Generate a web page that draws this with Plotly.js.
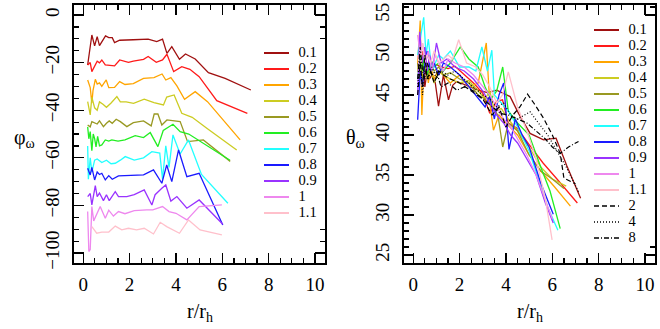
<!DOCTYPE html>
<html>
<head>
<meta charset="utf-8">
<script src="https://cdn.plot.ly/plotly-3.0.1.min.js"></script>
<style>
  html, body { margin: 0; padding: 0; background: #fff; }
  #chart { width: 660px; height: 329px; }
</style>
</head>
<body>
<div id="chart"></div>
<script>
// Series labels and colours
let names = ["0.1", "0.2", "0.3", "0.4", "0.5", "0.6", "0.7", "0.8", "0.9", "1", "1.1"];
let blackNames = ["2", "4", "8"];
let colors = ["#a01010", "#ff1a1a", "#ffa500", "#cccc22", "#999922", "#22ee22", "#22ffff", "#1a1aff", "#9933ff", "#ee88ee", "#ffc0cb"];
let dashes = ["5px,3px", "1px,2px", "5px,2px,1px,2px"];

// Left panel: phi_omega vs r/r_h
let phiX = [
  [0.19, 0.37, 0.49, 0.6, 0.7, 0.8, 0.96, 1.1, 1.25, 1.35, 1.57, 2.16, 2.8, 3.17, 3.42, 3.61, 3.82, 4.15, 4.41, 4.83, 5.4, 6.12, 7.23],
  [0.19, 0.3, 0.37, 0.49, 0.6, 0.7, 0.8, 0.95, 1.25, 1.35, 1.57, 1.95, 2.16, 2.6, 2.8, 3.15, 3.42, 3.61, 3.9, 4.25, 4.6, 5.0, 5.76, 7.08],
  [0.19, 0.3, 0.37, 0.42, 0.52, 0.6, 0.7, 0.8, 0.99, 1.1, 1.35, 1.57, 1.8, 2.16, 2.6, 3.05, 3.4, 3.56, 3.78, 4.04, 4.37, 4.83, 5.36, 6.77],
  [0.19, 0.3, 0.37, 0.49, 0.6, 0.7, 0.85, 1.0, 1.2, 1.45, 1.6, 1.85, 2.17, 2.63, 3.05, 3.46, 3.6, 3.92, 4.25, 4.7, 5.33, 6.62],
  [0.19, 0.3, 0.37, 0.49, 0.6, 0.7, 0.87, 1.0, 1.12, 1.25, 1.42, 1.6, 1.88, 2.16, 2.6, 2.93, 3.06, 3.22, 3.39, 3.61, 4.18, 4.5, 5.18, 6.34],
  [0.19, 0.24, 0.3, 0.37, 0.43, 0.49, 0.55, 0.62, 0.7, 0.8, 0.95, 1.1, 1.23, 1.5, 1.8, 2.24, 2.6, 2.89, 3.22, 3.45, 3.87, 4.18, 4.55, 6.33],
  [0.19, 0.22, 0.3, 0.37, 0.49, 0.6, 0.8, 1.0, 1.2, 1.38, 1.6, 1.81, 2.2, 2.6, 2.96, 3.3, 3.42, 3.56, 3.7, 3.87, 4.18, 4.54, 5.1, 6.24],
  [0.19, 0.3, 0.37, 0.49, 0.6, 0.7, 0.8, 0.95, 1.1, 1.25, 1.52, 1.8, 2.2, 2.6, 3.03, 3.39, 3.6, 3.82, 4.11, 4.47, 5.0, 6.02],
  [0.19, 0.3, 0.37, 0.52, 0.6, 0.7, 0.87, 1.0, 1.12, 1.38, 1.52, 1.88, 2.2, 2.63, 2.96, 3.1, 3.39, 3.56, 3.78, 4.04, 4.47, 5.0, 6.02],
  [0.19, 0.24, 0.3, 0.37, 0.45, 0.55, 0.73, 0.95, 1.1, 1.3, 1.52, 1.8, 2.2, 2.74, 3.0, 3.42, 3.7, 4.0, 4.47, 5.0, 5.98],
  [0.37, 0.49, 0.58, 0.8, 1.1, 1.38, 1.66, 1.95, 2.3, 2.63, 3.03, 3.32, 3.6, 4.15, 4.54, 5.04, 5.98]
];
let phiY = [
  [-21, -8.4, -13, -9.1, -12.9, -11.5, -8.8, -9.5, -9.5, -11.6, -10.6, -10.4, -10.1, -11.2, -10.1, -16.1, -13.3, -18.6, -16.4, -18.5, -24.2, -26.6, -31.5],
  [-21, -20, -23.8, -21.7, -19.4, -20.1, -18.9, -21, -21.4, -21.4, -18.9, -19.9, -19.4, -18.6, -17.4, -19.9, -18.9, -16.5, -23.8, -21.7, -22.8, -25.9, -36, -41.3],
  [-27.3, -30.5, -37, -31.8, -27, -29, -28.5, -30, -27.3, -30.5, -30.4, -28, -29.2, -28.8, -26.6, -26.3, -24.8, -27.3, -26.3, -29.8, -35.4, -32.2, -36.4, -52.5],
  [-36.4, -42, -34.5, -39, -40, -36.5, -37.5, -38.8, -37, -34.3, -36.5, -36.5, -37.1, -35.4, -36.8, -37.8, -34.5, -33.6, -41.3, -43, -47.6, -56.7],
  [-46.2, -47, -44.8, -45.5, -45.8, -44.5, -46.9, -45.5, -44.5, -45.5, -43.8, -44.8, -46.9, -45.2, -44.5, -46.6, -41.6, -41.6, -46.2, -44.1, -44.8, -53.2, -52.5, -61.5],
  [-47, -52, -49, -57, -50, -52, -55.4, -51, -55, -54.6, -52.5, -53, -52.5, -53, -52.5, -50.7, -51.5, -49.4, -55.3, -48.5, -45.9, -49, -50, -61],
  [-55, -69, -60, -66, -61, -60.5, -62, -61, -62.5, -62.3, -61, -59.5, -61, -60, -57.4, -58, -69, -55, -64, -50.4, -58.4, -52.5, -67, -79.1],
  [-64.4, -67.2, -64, -69.3, -66, -67, -66.5, -69.3, -67.5, -69, -67.6, -67.5, -67.2, -67.2, -65.1, -70.7, -63, -70, -56.7, -67.9, -66.5, -88.2],
  [-76.3, -75, -79.8, -71.7, -76.3, -74.8, -78, -75.5, -78, -74.2, -76.3, -76.3, -75.5, -73.5, -79.8, -75.5, -72.8, -71.4, -78.2, -76.3, -81.2, -77.7, -87.9],
  [-82.6, -99.4, -98.5, -80.5, -86.5, -84.5, -80.5, -85.4, -82, -84.5, -82.6, -83.5, -82.2, -81.9, -81.9, -80.5, -82.6, -83.3, -86.1, -80.5, -79.8],
  [-88.9, -90.3, -91.7, -91.2, -91.2, -88.7, -90.3, -89.6, -90.3, -89.6, -92, -87.1, -88.9, -91.7, -86.1, -90.3, -92.4]
];

// Right panel: theta_omega vs r/r_h (11 coloured + 3 black series)
let thetaX = [
  [0.19, 0.3, 0.4, 0.5, 0.6, 0.7, 0.8, 0.95, 1.09, 1.3, 1.52, 1.7, 1.88, 2.3, 2.8, 3.2, 3.6, 4.18, 4.54, 5.04, 5.62, 6.16, 6.62, 7.22],
  [0.19, 0.3, 0.4, 0.5, 0.6, 0.7, 0.85, 1.0, 1.2, 1.5, 1.8, 2.2, 2.6, 3.0, 3.3, 3.6, 3.85, 4.1, 4.5, 5.0, 5.6, 6.2, 7.08],
  [0.19, 0.3, 0.37, 0.45, 0.55, 0.65, 0.75, 0.9, 1.05, 1.3, 1.6, 2.0, 2.4, 2.8, 3.15, 3.3, 3.46, 3.7, 4.0, 4.5, 5.0, 5.5, 6.1, 6.78],
  [0.19, 0.3, 0.4, 0.5, 0.6, 0.75, 0.9, 1.1, 1.3, 1.6, 2.0, 2.4, 2.8, 3.1, 3.3, 3.5, 3.8, 4.1, 4.5, 5.0, 5.5, 6.0, 6.6],
  [0.19, 0.3, 0.4, 0.5, 0.6, 0.75, 0.9, 1.1, 1.3, 1.6, 2.0, 2.4, 2.8, 3.1, 3.4, 3.65, 3.86, 4.1, 4.5, 5.0, 5.5, 6.0, 6.5],
  [0.19, 0.3, 0.4, 0.5, 0.6, 0.75, 0.9, 1.1, 1.3, 1.6, 2.03, 2.4, 2.8, 3.1, 3.35, 3.6, 3.86, 4.1, 4.5, 5.0, 5.5, 5.9, 6.34],
  [0.19, 0.3, 0.45, 0.55, 0.65, 0.8, 0.95, 1.1, 1.3, 1.6, 2.0, 2.4, 2.7, 2.96, 3.2, 3.39, 3.5, 3.8, 4.1, 4.5, 5.0, 5.4, 5.8, 6.24],
  [0.19, 0.3, 0.4, 0.5, 0.6, 0.75, 0.9, 1.1, 1.3, 1.6, 2.0, 2.4, 2.8, 3.1, 3.3, 3.5, 3.7, 3.9, 4.13, 4.4, 4.7, 5.0, 5.5, 6.04],
  [0.19, 0.28, 0.38, 0.5, 0.6, 0.7, 0.85, 1.0, 1.2, 1.45, 1.8, 2.2, 2.6, 3.0, 3.3, 3.6, 3.9, 4.2, 4.5, 4.9, 5.3, 5.7, 6.04],
  [0.19, 0.3, 0.4, 0.5, 0.65, 0.8, 0.95, 1.1, 1.3, 1.5, 1.8, 2.2, 2.6, 3.0, 3.3, 3.6, 3.9, 4.2, 4.5, 4.9, 5.3, 5.7, 6.0],
  [0.19, 0.3, 0.4, 0.5, 0.6, 0.75, 0.9, 1.1, 1.3, 1.5, 1.7, 1.96, 2.3, 2.7, 3.0, 3.3, 3.6, 3.85, 4.1, 4.5, 4.9, 5.3, 5.7, 5.99],
  [0.19, 0.3, 0.4, 0.5, 0.6, 0.75, 0.9, 1.1, 1.3, 1.6, 2.0, 2.5, 3.0, 3.4, 3.7, 4.0, 4.3, 4.6, 4.93, 5.2, 5.62, 6.0, 6.34, 6.5, 7.0],
  [0.19, 0.3, 0.4, 0.5, 0.65, 0.8, 1.0, 1.2, 1.5, 1.8, 2.2, 2.6, 3.0, 3.3, 3.6, 3.9, 4.2, 4.5, 4.8, 5.04, 5.4, 5.8, 6.2, 6.6, 7.13],
  [0.19, 0.3, 0.4, 0.5, 0.6, 0.8, 1.0, 1.2, 1.5, 1.88, 2.2, 2.6, 3.0, 3.4, 3.75, 4.1, 4.5, 4.9, 5.3, 5.7, 6.0, 6.34, 6.7, 7.13]
];
let thetaY = [
  [49, 47.5, 49.5, 46, 48, 47, 47.5, 46.5, 43.6, 47.5, 44.4, 46.2, 46.7, 46.2, 45.6, 45.3, 45.6, 44.8, 42.7, 40.2, 39.4, 39.6, 36.2, 32.1],
  [50, 48, 50.5, 47.5, 49, 48, 48.5, 48.8, 48.5, 48.3, 48.6, 47.5, 46.5, 45.2, 42.7, 44.2, 44.4, 41.5, 40.8, 38.8, 36.5, 34.5, 31.5],
  [49, 54.3, 42.5, 48, 49.5, 46.5, 48.5, 47, 48, 47.5, 46.5, 47.5, 46, 46.5, 51.5, 44, 40.6, 42.5, 41.5, 40, 37.5, 35.5, 33.5, 31.1],
  [48, 51, 47, 49.5, 47, 48, 46.5, 48, 47.5, 47, 46.5, 46.8, 45.5, 44.5, 45.5, 43, 43.3, 42, 40.5, 38.5, 36, 34.5, 33.6],
  [49, 47, 50, 48, 47.5, 49, 48, 48.5, 47.5, 47.8, 47, 46.5, 45, 44.5, 43.5, 42.5, 38.5, 41.5, 40.5, 37.5, 35.5, 34.5, 33.3],
  [47, 50, 48, 51, 47.5, 49.5, 48.5, 49, 48, 49, 51, 49.5, 48.5, 46, 44.5, 45.5, 48.5, 43, 41.5, 40, 36, 33, 28.3],
  [50, 52, 54.7, 50, 52, 48, 49, 50, 49.5, 50.5, 48.5, 48.5, 48, 51, 48, 50.6, 45, 44, 43, 41, 38, 34.5, 31, 28.1],
  [41.9, 48, 46, 49, 50.5, 48, 49, 47.5, 49, 48.5, 47.5, 46, 44.5, 43.5, 44.8, 42, 45, 46.5, 38.2, 42, 40, 38.5, 34, 30.1],
  [45, 52.9, 49, 51, 48, 50, 48.5, 51.5, 49, 49.5, 48.5, 48, 47, 45.5, 44, 42.5, 41.5, 40, 39, 37, 35, 31.5, 29],
  [52.5, 50, 51.5, 49, 50.5, 48, 50, 49, 48, 49.5, 49, 48.5, 47.5, 46, 45, 43.5, 42, 41, 39.5, 37.5, 35, 32, 29.5],
  [50, 48, 51.5, 49.5, 50, 49, 50.5, 49, 49.5, 50, 49.5, 51.9, 49, 48.5, 47.5, 46, 44, 45, 47.9, 43.5, 40.5, 37, 32, 26.9],
  [45, 49, 46, 50, 47, 48, 46.5, 48, 47.5, 47, 46.5, 45.5, 44.5, 42.5, 43.5, 41, 42.5, 43.5, 45.1, 44, 42.1, 40, 37.7, 34.6, 33.9],
  [46, 50, 45, 48, 47, 48.5, 47, 48, 47.5, 48, 47, 46, 45, 44.5, 43.5, 44, 42.5, 42, 42.5, 42.9, 41.5, 40, 38, 36, 32.9],
  [47, 51, 48, 47, 49, 47.5, 48, 46, 46.5, 45.6, 46, 45.5, 44.5, 43.5, 42.7, 42.5, 42, 41.5, 40.5, 39.5, 38.5, 37.7, 38.5, 39.2]
];

let serif = "Liberation Serif";

function makeTraces() {
  let traces = [];
  let allNames = names.concat(blackNames);

  // data lines, left panel
  names.forEach(function (n, i) {
    traces.push({
      x: phiX[i], y: phiY[i], mode: "lines", xaxis: "x", yaxis: "y",
      line: {color: colors[i], width: 1.3}, showlegend: false, hoverinfo: "skip"
    });
  });

  // data lines, right panel
  allNames.forEach(function (n, i) {
    let line = i < names.length ? {color: colors[i], width: 1.3} : {color: "#000", width: 1.2, dash: dashes[i - names.length]};
    traces.push({
      x: thetaX[i], y: thetaY[i], mode: "lines", xaxis: "x2", yaxis: "y2",
      line: line, showlegend: false, hoverinfo: "skip"
    });
  });

  // legend keys, drawn on their own hidden axes
  function legendKeys(labels, xa, ya) {
    labels.forEach(function (n, i) {
      let line = i < names.length ? {color: colors[i], width: 2} : {color: "#000", width: 1.3, dash: dashes[i - names.length]};
      traces.push({
        x: [0, 1], y: [i, i], mode: "lines", xaxis: xa, yaxis: ya,
        line: line, showlegend: false, hoverinfo: "skip"
      });
    });
    traces.push({
      x: labels.map(function () { return 1.38; }),
      y: labels.map(function (n, i) { return i; }),
      text: labels, mode: "text", textposition: "middle right",
      textfont: {family: serif, size: 14.5, color: "#000"},
      xaxis: xa, yaxis: ya, cliponaxis: false, showlegend: false, hoverinfo: "skip"
    });
  }
  legendKeys(names, "x3", "y3");
  legendKeys(allNames, "x4", "y4");
  return traces;
}

function axis(domain, range, dtick, minor, extra) {
  let a = {
    domain: domain, range: range, dtick: dtick, tick0: 0,
    ticks: "inside", ticklen: 10, tickwidth: 1.2, tickcolor: "#000",
    minor: {dtick: minor, ticks: "inside", ticklen: 5, tickwidth: 1.2, tickcolor: "#000"},
    showline: true, linewidth: 2, linecolor: "#000", mirror: "allticks",
    showgrid: false, zeroline: false,
    tickfont: {family: serif, size: 19, color: "#000"}
  };
  return Object.assign(a, extra || {});
}

let W = 660, H = 329;
let xdomL = [74 / W, 325 / W], xdomR = [404 / W, 655 / W];
let ydom = [66 / H, 324 / H];

function label(text, px, py) {
  return {
    text: text, x: px / W, y: 1 - py / H, xref: "paper", yref: "paper",
    xanchor: "center", yanchor: "middle", showarrow: false,
    font: {family: serif, size: 20, color: "#000"}
  };
}

let layout = {
  width: W, height: H,
  margin: {l: 0, r: 0, t: 0, b: 0},
  paper_bgcolor: "#fff", plot_bgcolor: "#fff",
  font: {family: serif, size: 19, color: "#000"},
  showlegend: false,
  xaxis: axis(xdomL, [-0.4, 10.43], 2, 0.5, {anchor: "y", ticklabelstandoff: 3}),
  yaxis: axis(ydom, [-104.2, 4.2], 20, 5, {anchor: "x", tickangle: -90, ticklabelstandoff: 5}),
  xaxis2: axis(xdomR, [-0.4, 10.43], 2, 0.5, {anchor: "y2", ticklabelstandoff: 3}),
  yaxis2: axis(ydom, [24, 56.25], 5, 1, {anchor: "x2", tickangle: -90, ticklabelstandoff: 5}),
  xaxis3: {domain: [264 / W, 325 / W], range: [0, 2.44], visible: false, anchor: "y3"},
  yaxis3: {domain: [1 - 221 / H, 1 - 45 / H], range: [10.5, -0.5], visible: false, anchor: "x3"},
  xaxis4: {domain: [594 / W, 655 / W], range: [0, 2.44], visible: false, anchor: "y4"},
  yaxis4: {domain: [1 - 246 / H, 1 - 22 / H], range: [13.5, -0.5], visible: false, anchor: "x4"},
  annotations: [
    label("φ<sub>ω</sub>", 24, 138),
    label("θ<sub>ω</sub>", 355, 138),
    label("r/r<sub>h</sub>", 200, 312),
    label("r/r<sub>h</sub>", 530, 312)
  ]
};

Plotly.newPlot("chart", makeTraces(), layout, {staticPlot: true});
</script>
</body>
</html>
